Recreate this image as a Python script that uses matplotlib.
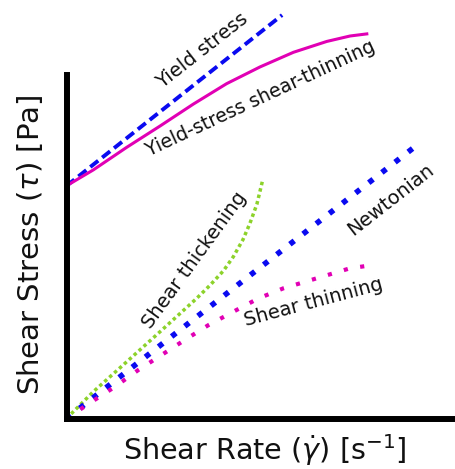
import matplotlib
matplotlib.use("Agg")
import matplotlib.pyplot as plt

# ---- data (arbitrary units) ----
yield_x = [0.0, 5.55]
yield_y = [5.56, 9.64]

ysst_x = [0.0, 0.69, 1.55, 2.41, 3.26, 4.12, 4.98, 5.84, 6.70, 7.30, 7.73]
ysst_y = [5.56, 5.94, 6.48, 6.99, 7.51, 8.00, 8.40, 8.75, 9.01, 9.14, 9.19]

newt_x = [0.0, 8.92]
newt_y = [0.0, 6.46]

thin_x = [0.0, 0.65, 1.25, 1.85, 2.45, 3.05, 3.65, 4.29, 4.94, 5.58, 6.44, 7.30, 7.68]
thin_y = [0.0, 0.40, 0.76, 1.16, 1.52, 1.88, 2.23, 2.55, 2.87, 3.11, 3.35, 3.59, 3.64]

thick_x = [0.0, 0.69, 1.46, 2.32, 3.35, 3.69, 4.04, 4.29, 4.54, 4.72, 4.90, 5.04]
thick_y = [0.0, 0.64, 1.28, 2.00, 2.87, 3.18, 3.53, 3.86, 4.27, 4.66, 5.12, 5.66]

labels = ["Yield stress", "Yield-stress shear-thinning", "Newtonian",
          "Shear thickening", "Shear thinning"]

BLUE = "#0a0af0"
MAG = "#e100b4"
GREEN = "#8cd22a"

W, H = 455, 469
fig = plt.figure(figsize=(W / 100, H / 100), dpi=100)
x0, y0 = 66.5, 418.5
ax = fig.add_axes([x0 / W, (H - y0) / H, (W - x0) / W, y0 / H])
ax.set_xlim(0, 10)
ax.set_ylim(0, 10)
ax.set_xticks([])
ax.set_yticks([])
ax.patch.set_alpha(0)
for s in ["top", "right"]:
    ax.spines[s].set_visible(False)
for s in ["left", "bottom"]:
    ax.spines[s].set_linewidth(4.3)
    ax.spines[s].set_capstyle("projecting")
ax.spines["left"].set_bounds(0, 8.21)

ax.plot(thick_x, thick_y, color=GREEN, lw=2.5, dashes=(1, 0.9), clip_on=False)
ax.plot(newt_x, newt_y, color=BLUE, lw=4, dashes=(1, 2), clip_on=False)
ax.plot(thin_x, thin_y, color=MAG, lw=3, dashes=(1, 3), clip_on=False)
ax.plot(yield_x, yield_y, color=BLUE, lw=2.8, dashes=(2.6, 1.3), clip_on=False)
ax.plot(ysst_x, ysst_y, color=MAG, lw=2.2, clip_on=False,
        solid_joinstyle="round")

def ftext(px, py, s, rot, size=14):
    fig.text(px / W, 1 - py / H, s, rotation=rot, rotation_mode="anchor",
             ha="center", va="center", fontsize=size, color="#111111")

ftext(202, 51, labels[0], 38)
ftext(261, 98, labels[1], 25, size=13.6)
ftext(391, 200, labels[2], 38)
ftext(194, 260, labels[3], 54)
ftext(314, 302, labels[4], 15)

fig.text(265 / W, 1 - 450 / H, r"Shear Rate ($\dot{\gamma}$) [s$^{-1}$]",
         ha="center", va="center", fontsize=20.6, color="#111111")
fig.text(30 / W, 1 - 245 / H, r"Shear Stress ($\tau$) [Pa]", rotation=90,
         ha="center", va="center", fontsize=21, color="#111111")

fig.savefig("out.png", dpi=100)
